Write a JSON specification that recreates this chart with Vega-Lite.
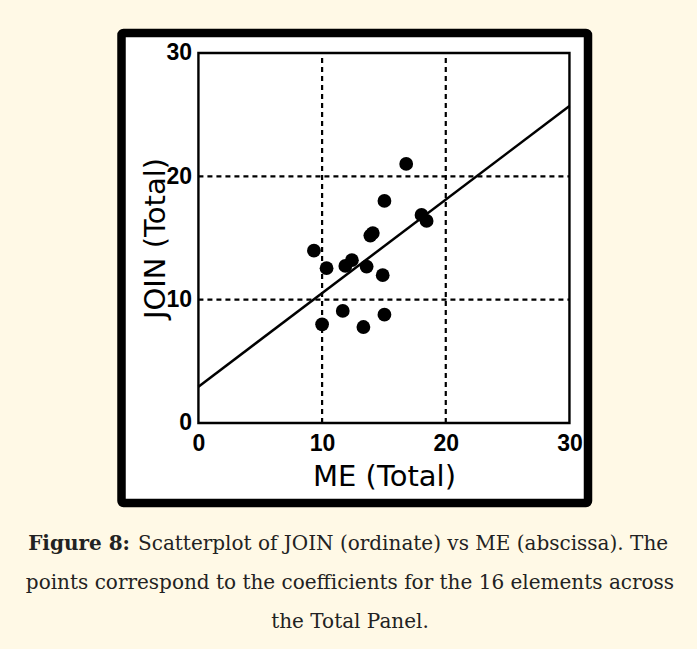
{
  "$schema": "https://vega.github.io/schema/vega-lite/v6.json",
  "autosize": "none",
  "width": 466.5,
  "height": 470,
  "padding": {"left": 121.5, "top": 33, "right": 109, "bottom": 146},
  "background": "#fff9e6",
  "datasets": {
    "points": [
      {"ME": 9.34, "JOIN": 13.97},
      {"ME": 10.36, "JOIN": 12.55},
      {"ME": 11.88, "JOIN": 12.73},
      {"ME": 12.41, "JOIN": 13.2},
      {"ME": 13.6, "JOIN": 12.68},
      {"ME": 14.9, "JOIN": 11.98},
      {"ME": 13.9, "JOIN": 15.2},
      {"ME": 14.1, "JOIN": 15.4},
      {"ME": 15.04, "JOIN": 18.0},
      {"ME": 16.8, "JOIN": 21.0},
      {"ME": 18.04, "JOIN": 16.87},
      {"ME": 18.45, "JOIN": 16.38},
      {"ME": 10.0, "JOIN": 8.0},
      {"ME": 11.67, "JOIN": 9.08},
      {"ME": 13.34, "JOIN": 7.78},
      {"ME": 15.04, "JOIN": 8.78}
    ],
    "fit": [
      {"ME": 0, "JOIN": 2.94},
      {"ME": 30, "JOIN": 25.7}
    ],
    "grid": [
      {"v": 10},
      {"v": 20}
    ],
    "frame": [
      {"lo": 0, "hi": 30}
    ]
  },
  "resolve": {"axis": {"x": "independent", "y": "independent"}},
  "layer": [
    {
      "data": {"name": "grid"},
      "mark": {"type": "rule", "color": "black", "strokeWidth": 2.2, "strokeDash": [5, 4]},
      "encoding": {
        "x": {
          "field": "v", "type": "quantitative",
          "scale": {"domain": [-6.22, 31.5], "nice": false, "zero": false},
          "axis": {
            "orient": "bottom", "labels": false, "ticks": false, "domain": false, "grid": false,
            "title": "Figure 8:",
            "titleX": 8, "titleY": 46,
            "titleAlign": "right", "titleBaseline": "alphabetic",
            "titleFont": "DejaVu Serif", "titleFontSize": 20, "titleFontWeight": "bold", "titleColor": "#222222"
          }
        },
        "y": {"datum": 0, "type": "quantitative", "scale": {"domain": [-6.49, 31.62], "nice": false, "zero": false}, "axis": null},
        "y2": {"datum": 30}
      }
    },
    {
      "data": {"name": "grid"},
      "mark": {"type": "rule", "color": "black", "strokeWidth": 2.2, "strokeDash": [5, 4]},
      "encoding": {
        "y": {"field": "v", "type": "quantitative", "scale": {"domain": [-6.49, 31.62], "nice": false, "zero": false}, "axis": null},
        "x": {"datum": 0, "type": "quantitative", "scale": {"domain": [-6.22, 31.5], "nice": false, "zero": false}, "axis": null},
        "x2": {"datum": 30}
      }
    },
    {
      "data": {"name": "frame"},
      "mark": {"type": "rect", "fill": null, "fillOpacity": 0, "stroke": "black", "strokeWidth": 2.4},
      "encoding": {
        "x": {
          "field": "lo", "type": "quantitative",
          "scale": {"domain": [-6.22, 31.5], "nice": false, "zero": false},
          "axis": {
            "orient": "bottom", "labels": false, "ticks": false, "domain": false, "grid": false,
            "title": "Scatterplot of JOIN (ordinate) vs ME (abscissa). The",
            "titleX": 16, "titleY": 46,
            "titleAlign": "left", "titleBaseline": "alphabetic",
            "titleFont": "DejaVu Serif", "titleFontSize": 20, "titleFontWeight": "normal", "titleColor": "#222222"
          }
        },
        "x2": {"field": "hi"},
        "y": {"field": "lo", "type": "quantitative", "scale": {"domain": [-6.49, 31.62], "nice": false, "zero": false}, "axis": null},
        "y2": {"field": "hi"}
      }
    },
    {
      "data": {"name": "fit"},
      "mark": {"type": "line", "color": "black", "strokeWidth": 2.5},
      "encoding": {
        "x": {
          "field": "ME", "type": "quantitative",
          "scale": {"domain": [-6.22, 31.5], "nice": false, "zero": false},
          "axis": {
            "orient": "bottom", "labels": false, "ticks": false, "domain": false, "grid": false,
            "title": ["points correspond to the coefficients for the 16 elements across", "the Total Panel."],
            "titleX": 228, "titleY": 85,
            "titleAlign": "center", "titleBaseline": "alphabetic", "titleLineHeight": 39,
            "titleFont": "DejaVu Serif", "titleFontSize": 20, "titleFontWeight": "normal", "titleColor": "#222222"
          }
        },
        "y": {"field": "JOIN", "type": "quantitative", "scale": {"domain": [-6.49, 31.62], "nice": false, "zero": false}, "axis": null}
      }
    },
    {
      "data": {"name": "points"},
      "mark": {"type": "circle", "color": "black", "opacity": 1, "size": 190},
      "encoding": {
        "x": {
          "field": "ME", "type": "quantitative",
          "scale": {"domain": [-6.22, 31.5], "nice": false, "zero": false},
          "axis": {
            "orient": "bottom",
            "values": [0, 10, 20, 30],
            "offset": -80,
            "domain": false,
            "ticks": false,
            "tickSize": 0,
            "grid": false,
            "labelPadding": 9,
            "labelFont": "Liberation Sans",
            "labelFontSize": 23,
            "labelFontWeight": "bold",
            "labelColor": "black",
            "labelFlush": false,
            "labelOverlap": false,
            "title": "ME (Total)",
            "titleX": 262.5,
            "titleY": 62,
            "titleAlign": "center",
            "titleBaseline": "alphabetic",
            "titleFont": "DejaVu Sans",
            "titleFontSize": 29,
            "titleFontWeight": "normal",
            "titleColor": "black"
          }
        },
        "y": {
          "field": "JOIN", "type": "quantitative",
          "scale": {"domain": [-6.49, 31.62], "nice": false, "zero": false},
          "axis": {
            "orient": "left",
            "values": [0, 10, 20, 30],
            "offset": -77,
            "domain": false,
            "ticks": false,
            "tickSize": 0,
            "grid": false,
            "labelPadding": 7,
            "labelFont": "Liberation Sans",
            "labelFontSize": 23,
            "labelFontWeight": "bold",
            "labelColor": "black",
            "labelFlush": false,
            "labelOverlap": false,
            "title": "JOIN (Total)",
            "titleX": -34,
            "titleY": 205,
            "titleAngle": 270,
            "titleAlign": "center",
            "titleBaseline": "alphabetic",
            "titleFont": "DejaVu Sans",
            "titleFontSize": 29,
            "titleFontWeight": "normal",
            "titleColor": "black"
          }
        }
      }
    }
  ],
  "config": {
    "view": {"stroke": "black", "strokeWidth": 8.5, "fill": "white", "cornerRadius": 2}
  }
}
